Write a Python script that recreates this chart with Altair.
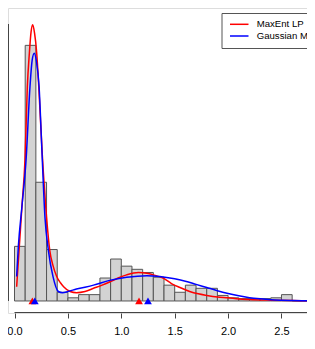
import altair as alt
import pandas as pd

# Histogram (density) bins of width 0.1
bin_start = [0.0, 0.1, 0.2, 0.3, 0.4, 0.5, 0.6, 0.7, 0.8, 0.9, 1.0, 1.1, 1.2, 1.3, 1.4,
             1.5, 1.6, 1.7, 1.8, 1.9, 2.0, 2.1, 2.2, 2.3, 2.4, 2.5, 2.6, 2.7, 2.8]
density = [0.69, 3.23, 1.50, 0.65, 0.11, 0.04, 0.08, 0.08, 0.29, 0.53, 0.44, 0.40, 0.36, 0.30, 0.20,
           0.11, 0.20, 0.16, 0.16, 0.07, 0.04, 0.03, 0.03, 0.03, 0.04, 0.08, 0.0, 0.0, 0.03]
bin_width = 0.1

# MaxEnt LP density curve
red_x = [0.02, 0.045, 0.07, 0.098, 0.12, 0.139, 0.155, 0.17, 0.187, 0.208, 0.227, 0.26, 0.30, 0.33,
         0.36, 0.395, 0.43, 0.46, 0.52, 0.58, 0.66, 0.74, 0.82, 0.89, 0.97, 1.05, 1.16, 1.24, 1.30,
         1.39, 1.47, 1.55, 1.64, 1.72, 1.80, 1.90, 2.0, 2.1, 2.2, 2.4, 2.6, 2.9]
red_y = [0.18, 0.69, 1.2, 1.78, 2.71, 3.13, 3.40, 3.49, 3.39, 3.13, 2.71, 1.85, 1.06, 0.64,
         0.45, 0.31, 0.23, 0.18, 0.12, 0.105, 0.12, 0.16, 0.2, 0.24, 0.29, 0.33, 0.36, 0.35, 0.33,
         0.29, 0.22, 0.17, 0.12, 0.09, 0.07, 0.05, 0.04, 0.025, 0.018, 0.01, 0.005, 0.002]

# Gaussian Mixture density curve
blue_x = [0.02, 0.036, 0.07, 0.108, 0.145, 0.165, 0.185, 0.205, 0.23, 0.255, 0.285, 0.317, 0.36,
          0.41, 0.45, 0.50, 0.58, 0.74, 0.89, 1.05, 1.24, 1.36, 1.5, 1.6, 1.7, 1.8, 1.9, 2.0,
          2.1, 2.2, 2.3, 2.4, 2.5, 2.6, 2.8, 2.9]
blue_y = [0.31, 0.69, 1.2, 1.78, 2.71, 3.04, 3.13, 3.03, 2.71, 1.95, 1.06, 0.64, 0.31,
          0.12, 0.105, 0.12, 0.15, 0.20, 0.26, 0.30, 0.32, 0.31, 0.28, 0.25, 0.21, 0.17, 0.13, 0.095,
          0.065, 0.042, 0.027, 0.016, 0.01, 0.006, 0.003, 0.002]

# Triangle markers on the baseline
red_marks = [0.167, 1.166]
blue_marks = [0.19, 1.25]

x_ticks = [0.0, 0.5, 1.0, 1.5, 2.0, 2.5]
legend_names = ["MaxEnt LP", "Gaussian Mixture"]
legend_colors = ["#FF0000", "#0000FF"]

W, H = 299, 305
xs = alt.Scale(domain=[-0.061, 2.739], nice=False, zero=False)
ys = alt.Scale(domain=[-0.152, 3.702], nice=False, zero=False)

hist = pd.DataFrame({"x": bin_start, "x2": [b + bin_width for b in bin_start], "y": density})
hist["y0"] = 0.0
red = pd.DataFrame({"x": red_x, "y": red_y})
blue = pd.DataFrame({"x": blue_x, "y": blue_y})
marks = pd.DataFrame({"x": red_marks + blue_marks,
                      "c": ["r"] * len(red_marks) + ["b"] * len(blue_marks),
                      "y": [0.0] * (len(red_marks) + len(blue_marks))})

bars = alt.Chart(hist).mark_rect(fill="#D3D3D3", stroke="#555555", strokeWidth=1).encode(
    x=alt.X("x:Q", scale=xs, axis=alt.Axis(values=x_ticks, format=".1f", domain=False, grid=False,
                                           tickColor="#444444", tickSize=5, labelPadding=7,
                                           labelFontSize=11, labelFont="Liberation Sans",
                                           labelColor="#000000", title=None, labelFlush=False)),
    x2="x2:Q",
    y=alt.Y("y:Q", scale=ys, axis=None),
    y2="y0:Q",
)

red_line = alt.Chart(red).mark_line(color="#FF0000", strokeWidth=1.5, interpolate="monotone").encode(
    x=alt.X("x:Q", scale=xs), y=alt.Y("y:Q", scale=ys))
blue_line = alt.Chart(blue).mark_line(color="#0000FF", strokeWidth=1.5, interpolate="monotone").encode(
    x=alt.X("x:Q", scale=xs), y=alt.Y("y:Q", scale=ys))

tri = alt.Chart(marks).mark_point(shape="triangle-up", filled=True, size=60, opacity=1).encode(
    x=alt.X("x:Q", scale=xs), y=alt.Y("y:Q", scale=ys),
    color=alt.Color("c:N", scale=alt.Scale(domain=["r", "b"], range=["#FF0000", "#0000FF"]), legend=None))

yaxis = alt.Chart(pd.DataFrame({"a": [0.0], "b": [3.5]})).mark_rule(color="#444444", strokeWidth=1).encode(
    x=alt.value(0.5), y=alt.Y("a:Q", scale=ys), y2="b:Q")
xaxis = alt.Chart(pd.DataFrame({"a": [0.0], "b": [3.0]})).mark_rule(color="#444444", strokeWidth=1).encode(
    x=alt.X("a:Q", scale=xs), x2="b:Q", y=alt.value(H - 0.5))

leg_df = pd.DataFrame({"name": legend_names, "color": legend_colors, "row": [0, 1]})
leg_box = alt.Chart(pd.DataFrame({"k": [0]})).mark_rect(fill="white", stroke="#555555", strokeWidth=1).encode(
    x=alt.value(214), x2=alt.value(330), y=alt.value(5.5), y2=alt.value(40.5))
leg_r = alt.Chart(pd.DataFrame({"k": [0]})).mark_rule(color="#FF0000", strokeWidth=1.5).encode(
    x=alt.value(222), x2=alt.value(240.5), y=alt.value(16.3))
leg_b = alt.Chart(pd.DataFrame({"k": [0]})).mark_rule(color="#0000FF", strokeWidth=1.5).encode(
    x=alt.value(222), x2=alt.value(240.5), y=alt.value(28))
leg_t1 = alt.Chart(leg_df.iloc[[0]]).mark_text(align="left", baseline="middle", fontSize=9.6,
                                                font="Liberation Sans", color="#000000").encode(
    x=alt.value(248.7), y=alt.value(16.3), text="name:N")
leg_t2 = alt.Chart(leg_df.iloc[[1]]).mark_text(align="left", baseline="middle", fontSize=9.6,
                                                font="Liberation Sans", color="#000000").encode(
    x=alt.value(248.7), y=alt.value(28), text="name:N")

chart = alt.layer(bars, red_line, blue_line, tri, yaxis, xaxis, leg_box, leg_r, leg_b, leg_t1, leg_t2).properties(
    width=W, height=H,
    autosize=alt.AutoSizeParams(type="none"),
    padding={"left": 0, "top": 0, "right": 0, "bottom": 22},
).configure_view(stroke=None).configure(background="white")

chart.save("out.html", embed_options={"renderer": "svg", "actions": False})
